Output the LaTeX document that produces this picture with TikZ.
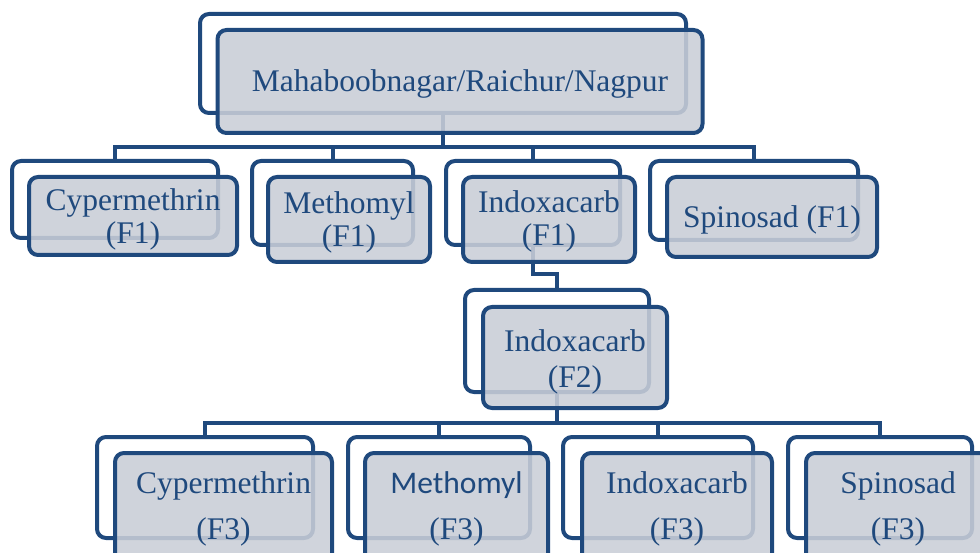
\documentclass[tikz,border=0pt]{standalone}
\usepackage{fontspec}
\setmainfont{Liberation Serif}
\newfontfamily\calib{Carlito}
\usetikzlibrary{backgrounds}
\definecolor{dblue}{RGB}{31,73,125}
\definecolor{ffill}{RGB}{201,206,215}
\tikzset{
  backbox/.style={draw=dblue, line width=4pt, rounded corners=9pt, fill=white, inner sep=0pt, outer sep=0pt},
  frontbox/.style={draw=dblue, line width=4pt, rounded corners=9pt, fill=ffill, fill opacity=0.88, inner sep=0pt, outer sep=0pt},
  label text/.style={text=dblue, inner sep=0pt, align=center},
  conn/.style={draw=dblue, line width=4pt},
  fone/.style={font=\fontsize{31.5}{33}\selectfont},
  ftwo/.style={font=\fontsize{31.5}{36}\selectfont},
  fthree/.style={font=\fontsize{31.5}{46}\selectfont}
}
\begin{document}
\begin{tikzpicture}[x=1pt,y=-1pt]
\useasboundingbox (0,0) rectangle (980,553);
\clip (0,0) rectangle (980,553);
% top
\node[backbox, minimum width=486pt, minimum height=99pt] (top-b) at (443,63.5) {};
\node[frontbox, minimum width=485pt, minimum height=103pt] (top-f) at (460,81.5) {};
\node[label text, fone] (top-t) at ([yshift=-2pt]top-f.center) {Mahaboobnagar/Raichur/Nagpur};
% row 1
\node[backbox, minimum width=206pt, minimum height=77pt] (c1-b) at (115,199.5) {};
\node[frontbox, minimum width=208pt, minimum height=78pt] (c1-f) at (133,216) {};
\node[label text, fone] (c1-t) at ([yshift=-3pt]c1-f.center) {Cypermethrin\\(F1)};
\node[backbox, minimum width=161pt, minimum height=84pt] (m1-b) at (332.5,203) {};
\node[frontbox, minimum width=162pt, minimum height=85pt] (m1-f) at (349,219.5) {};
\node[label text, fone] (m1-t) at ([yshift=-3pt]m1-f.center) {Methomyl\\(F1)};
\node[backbox, minimum width=174pt, minimum height=84pt] (i1-b) at (533,203) {};
\node[frontbox, minimum width=172pt, minimum height=85pt] (i1-f) at (549,219.5) {};
\node[label text, fone] (i1-t) at ([yshift=-2pt]i1-f.center) {Indoxacarb\\(F1)};
\node[backbox, minimum width=208pt, minimum height=79pt] (s1-b) at (754,200.5) {};
\node[frontbox, minimum width=210pt, minimum height=80pt] (s1-f) at (772,217) {};
\node[label text, fone] (s1-t) at ([yshift=-3pt]s1-f.center) {Spinosad (F1)};
% F2
\node[backbox, minimum width=184pt, minimum height=102pt] (i2-b) at (557,341) {};
\node[frontbox, minimum width=184pt, minimum height=101pt] (i2-f) at (575,357.5) {};
\node[label text, ftwo] (i2-t) at ([yshift=-4pt]i2-f.center) {Indoxacarb\\(F2)};
% row 3
\node[backbox, minimum width=216pt, minimum height=101pt] (c3-b) at (205,487.5) {};
\node[frontbox, minimum width=217pt, minimum height=110pt] (c3-f) at (223.5,508) {};
\node[label text, fthree] (c3-t) at ([yshift=-1pt]c3-f.center) {Cypermethrin\\(F3)};
\node[backbox, minimum width=182pt, minimum height=101pt] (m3-b) at (439,487.5) {};
\node[frontbox, minimum width=183pt, minimum height=110pt] (m3-f) at (456.5,508) {};
\node[label text, fthree] (m3-t) at ([yshift=-1pt]m3-f.center) {{\calib Methomyl}\\(F3)};
\node[backbox, minimum width=190pt, minimum height=101pt] (i3-b) at (658,487.5) {};
\node[frontbox, minimum width=190pt, minimum height=110pt] (i3-f) at (677,508) {};
\node[label text, fthree] (i3-t) at ([yshift=-1pt]i3-f.center) {Indoxacarb\\(F3)};
\node[backbox, minimum width=184pt, minimum height=101pt] (s3-b) at (880,487.5) {};
\node[frontbox, minimum width=184pt, minimum height=110pt] (s3-f) at (898,508) {};
\node[label text, fthree] (s3-t) at ([yshift=-1pt]s3-f.center) {Spinosad\\(F3)};
% connectors
\coordinate (j1) at (443,147);
\coordinate (j2) at (557,423);
\begin{pgfonlayer}{background}
\draw[conn] (top-b.south) -- (j1);
\draw[conn] (c1-b.north) |- (j1);
\draw[conn] (m1-b.north) |- (j1);
\draw[conn] (i1-b.north) |- (j1);
\draw[conn] (s1-b.north) |- (j1);
\draw[conn] (i1-b.south) -- ++(0,29) -| (i2-b.north);
\draw[conn] (i2-b.south) -- (j2);
\draw[conn] (c3-b.north) |- (j2);
\draw[conn] (m3-b.north) |- (j2);
\draw[conn] (i3-b.north) |- (j2);
\draw[conn] (s3-b.north) |- (j2);
\end{pgfonlayer}
\end{tikzpicture}
\end{document}
